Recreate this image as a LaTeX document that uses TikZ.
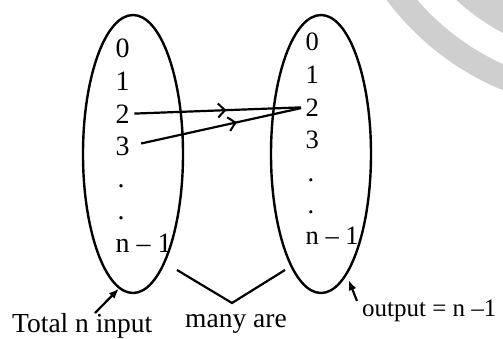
\documentclass[tikz,border=0pt]{standalone}
\usepackage{fontspec}
\setmainfont{Liberation Serif}
\usetikzlibrary{shapes.geometric,arrows.meta,decorations.markings,calc}
\begin{document}
\begin{tikzpicture}[x=1pt,y=-1pt,
  oval/.style={draw, ellipse, line width=2.4pt, minimum width=100pt, minimum height=278pt, inner sep=0pt},
  lnum/.style={anchor=base west, inner sep=0.5pt, font=\fontsize{28}{30}\selectfont},
  rnum/.style={anchor=base west, inner sep=0.5pt, font=\fontsize{26.5}{30}\selectfont},
  captxt/.style={anchor=base west, inner sep=0pt, font=\fontsize{27.5}{30}\selectfont},
  link/.style={line width=2.2pt, postaction={decorate},
    decoration={markings, mark=at position #1 with {\arrow{Straight Barb[length=7pt,width=14pt,line width=2pt]}}}},
  ptr/.style={line width=2.2pt, -{Latex[length=10pt,width=8pt]}},
  wm/.style={draw=black!19}
]
\useasboundingbox (0,0) rectangle (503,338);
% watermark arcs
\begin{scope}
  \clip (0,0) rectangle (503,338);
  \draw[wm, line width=24pt] (606.5,-163.5) circle[radius=262pt];
  \draw[wm, line width=30pt] (606.5,-163.5) circle[radius=207pt];
\end{scope}

% ellipses
\node[oval] (A) at (133,154) {};
\node[oval] (B) at (321,154) {};

% left labels
\node[lnum] (l0) at (115,57) {0};
\node[lnum] (l1) at (115,90) {1};
\node[lnum] (l2) at (115,123) {2};
\node[lnum] (l3) at (115,155) {3};
\node[lnum] (l4) at (117,187) {.};
\node[lnum] (l5) at (117,219) {.};
\node[lnum] (l6) at (115,252) {n – 1};

% right labels
\node[rnum] (r0) at (305,50) {0};
\node[rnum] (r1) at (305,83) {1};
\node[rnum] (r2) at (305,116) {2};
\node[rnum] (r3) at (305,148) {3};
\node[rnum] (r4) at (307,181) {.};
\node[rnum] (r5) at (307,213) {.};
\node[rnum] (r6) at (305,244) {n – 1};

% mappings
\draw[link=0.55, shorten <=4pt, shorten >=4pt] (l2.east) -- (r2.west);
\draw[link=0.61, shorten <=11pt, shorten >=4pt] (l3.east) -- (r2.west);

% bottom texts
\node[captxt] (tot) at (12,332) {Total n input};
\node[captxt] (many) at (185,327) {many are};
\node[captxt, font=\fontsize{25}{28}\selectfont] (outp) at (362,316) {output = n –1};

% V bracket
\coordinate (v1) at (177,270);
\coordinate (v2) at (232,303);
\coordinate (v3) at (285,270);
\draw[line width=2.2pt] (v1) -- (v2) -- (v3);

% pointers
\coordinate (p1) at (95,313);
\coordinate (p2) at (357,301);
\draw[ptr] (p1) -- (A.264);
\draw[ptr] (p2) -- ($(B.282)+(2,5)$);
\end{tikzpicture}
\end{document}
